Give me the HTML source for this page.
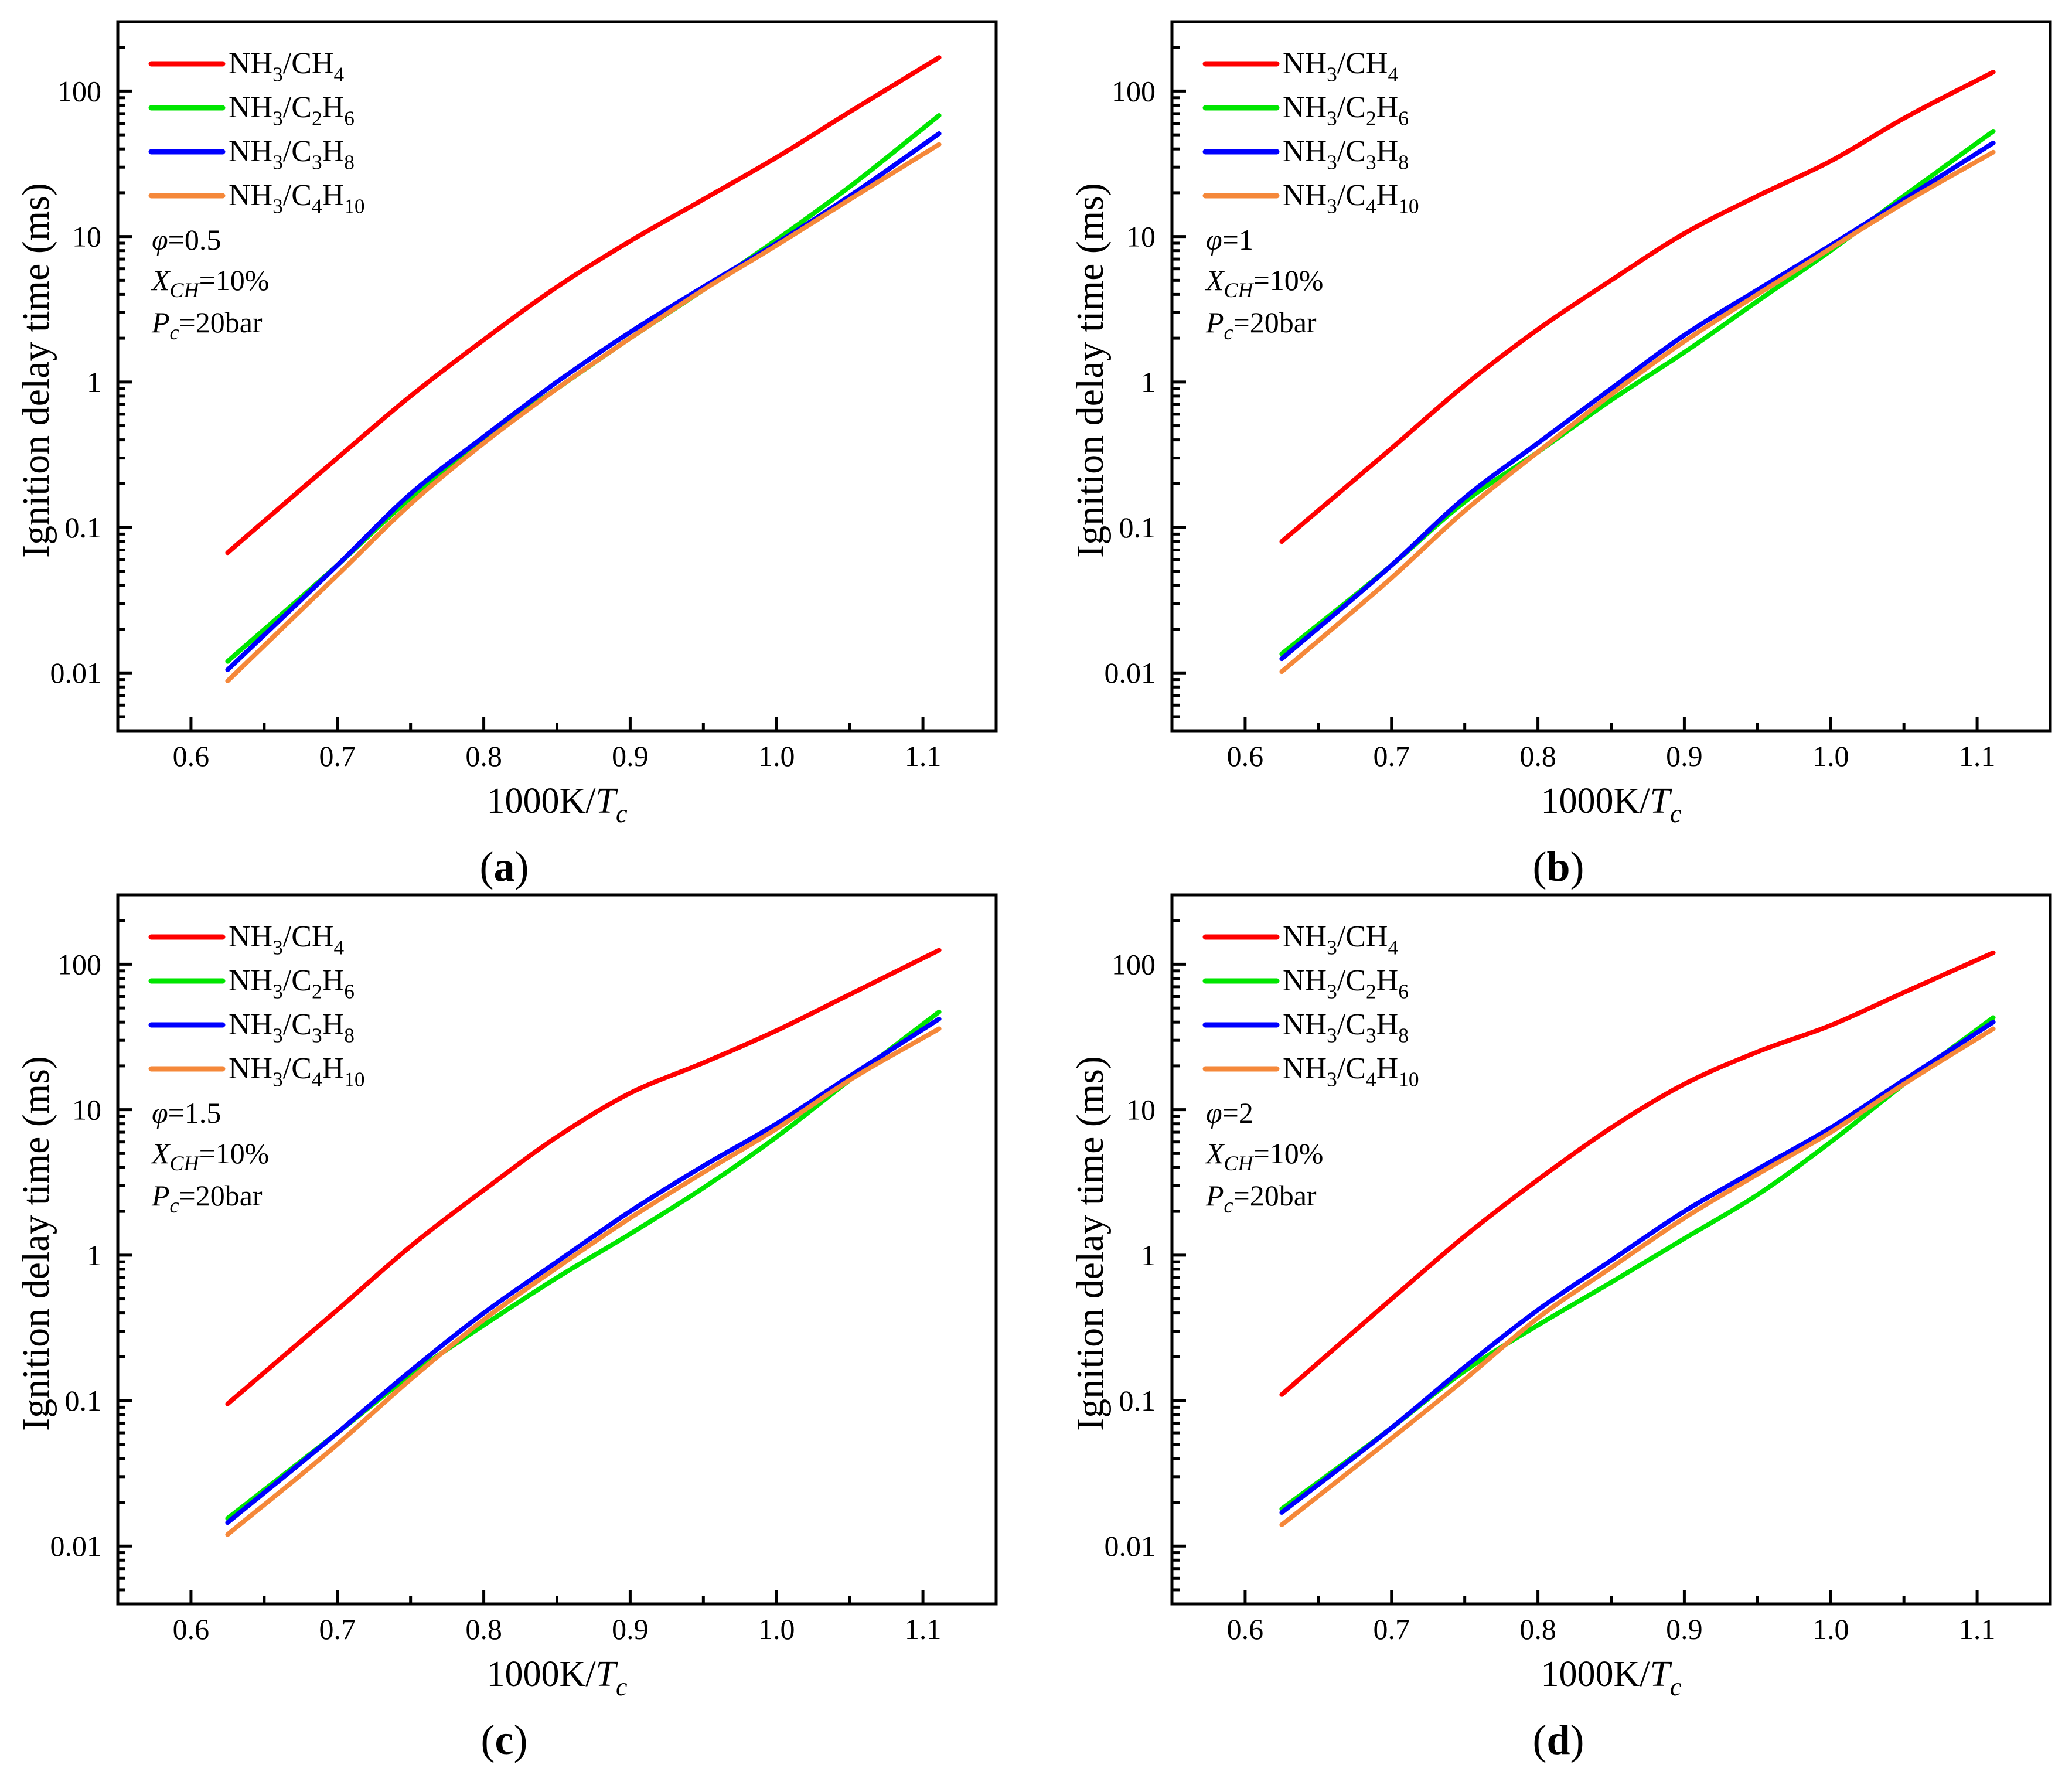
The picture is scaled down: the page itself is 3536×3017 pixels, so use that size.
<!DOCTYPE html>
<html><head><meta charset="utf-8"><style>
html,body{margin:0;padding:0;background:#fff}
svg{display:block;font-family:"Liberation Serif",serif}
text{font-family:"Liberation Serif",serif}
</style></head><body>
<svg id="fig" xmlns="http://www.w3.org/2000/svg" width="3536" height="3017" viewBox="0 0 3536 3017">
<rect width="3536" height="3017" fill="#fff"/>
</svg>
<script>
const xs = [0.625, 0.7, 0.75, 0.8, 0.85, 0.9, 0.95, 1.0, 1.05, 1.111];
const seriesNames = ["NH3/CH4","NH3/C2H6","NH3/C3H8","NH3/C4H10"];
const phiLabels = ["0.5","1","1.5","2"];
const panelLetters = ["a","b","c","d"];
const xTickLabels = ["0.6","0.7","0.8","0.9","1.0","1.1"];
const yTickLabels = ["0.01","0.1","1","10","100"];
// panel a
const aCH4  = [0.067,0.30,0.80,1.95,4.5,9.3,18,35,72,170];
const aC2H6 = [0.012,0.055,0.16,0.40,0.90,2.0,4.3,9.5,22,68];
const aC3H8 = [0.0105,0.055,0.17,0.42,1.0,2.2,4.5,9.0,19,51];
const aC4H10= [0.0088,0.047,0.145,0.38,0.90,2.0,4.3,8.7,18,43];
// panel b
const bCH4  = [0.08,0.35,0.95,2.3,5.0,10.5,19,33,65,135];
const bC2H6 = [0.0135,0.055,0.15,0.33,0.75,1.6,3.6,8.0,19,53];
const bC3H8 = [0.0125,0.055,0.16,0.38,0.90,2.1,4.3,8.7,18,44];
const bC4H10= [0.0102,0.045,0.13,0.33,0.82,1.9,4.0,8.3,17,38];
// panel c
const cCH4  = [0.095,0.42,1.15,2.8,6.5,13,21,35,62,125];
const cC2H6 = [0.0155,0.06,0.15,0.33,0.70,1.4,2.9,6.5,16,47];
const cC3H8 = [0.0145,0.06,0.16,0.40,0.90,2.0,4.1,8.0,17,42];
const cC4H10= [0.012,0.05,0.14,0.36,0.82,1.8,3.7,7.4,16,36];
// panel d
const dCH4  = [0.11,0.50,1.35,3.3,7.5,15,25,38,64,120];
const dC2H6 = [0.018,0.065,0.16,0.33,0.65,1.3,2.6,6.0,15,43];
const dC3H8 = [0.017,0.065,0.17,0.42,0.92,2.0,3.9,7.5,16,40];
const dC4H10= [0.014,0.055,0.14,0.37,0.82,1.8,3.6,7.0,15,36];

const panelData = [[aCH4,aC2H6,aC3H8,aC4H10],[bCH4,bC2H6,bC3H8,bC4H10],[cCH4,cC2H6,cC3H8,cC4H10],[dCH4,dC2H6,dC3H8,dC4H10]];
const colors = ["#ff0000","#00e600","#0000ff","#f5883a"];
const NS="http://www.w3.org/2000/svg";
const svg=document.getElementById('fig');
function mk(tag,attrs,parent){const e=document.createElementNS(NS,tag);for(const k in attrs)e.setAttribute(k,attrs[k]);(parent||svg).appendChild(e);return e;}

const origins=[[201,37],[2000,37],[201,1527],[2000,1527]];
const W=1499,H=1210,XMIN=0.55,XMAX=1.15,LMIN=Math.log10(0.004),LMAX=Math.log10(300);

function chemText(t,name,x,y,size,parent){
  const tx=mk('text',{x:x,y:y,'font-size':size,fill:'#000'},parent);
  
  
  const parts=t.match(/[A-Za-z\/]+|\d+/g);
  let sub=false;
  parts.forEach(p=>{
    const isNum=/^\d+$/.test(p);
    const s=mk('tspan',{},tx);
    if(isNum){s.setAttribute('font-size',size*0.68);s.setAttribute('dy',size*0.26);sub=true;}
    else if(sub){s.setAttribute('dy',-size*0.26);sub=false;}
    s.textContent=p;
  });
  return tx;
}

function smoothPath(pts){
  const n=pts.length,m=[];
  const d=[];
  for(let i=0;i<n-1;i++)d.push((pts[i+1][1]-pts[i][1])/(pts[i+1][0]-pts[i][0]));
  for(let i=0;i<n;i++){
    if(i===0)m.push(d[0]);else if(i===n-1)m.push(d[n-2]);
    else{const h0=pts[i][0]-pts[i-1][0],h1=pts[i+1][0]-pts[i][0];m.push((d[i-1]*h1+d[i]*h0)/(h0+h1));}
  }
  let s='M'+pts[0][0].toFixed(1)+','+pts[0][1].toFixed(1);
  for(let i=0;i<n-1;i++){
    const h=(pts[i+1][0]-pts[i][0])/3;
    s+=' C'+(pts[i][0]+h).toFixed(1)+','+(pts[i][1]+m[i]*h).toFixed(1)+' '+(pts[i+1][0]-h).toFixed(1)+','+(pts[i+1][1]-m[i+1]*h).toFixed(1)+' '+pts[i+1][0].toFixed(1)+','+pts[i+1][1].toFixed(1);
  }
  return s;
}

panelData.forEach((series,pi)=>{
  const [ox,oy]=origins[pi];
  const g=mk('g',{});
  
  
  const xS=v=>ox+(v-XMIN)/(XMAX-XMIN)*W;
  const yS=v=>oy+H-(Math.log10(v)-LMIN)/(LMAX-LMIN)*H;
  xTickLabels.forEach(l=>{
    const v=parseFloat(l),x=xS(v);
    const t=mk('line',{x1:x,x2:x,y1:oy+H,y2:oy+H-24,stroke:'#000','stroke-width':5},g);
    
    
    const tx=mk('text',{x:x,y:oy+H+60,'font-size':50,'text-anchor':'middle'},g);
    
    
    tx.textContent=l;
    if(v+0.05<XMAX){const xm=xS(v+0.05);const mm=mk('line',{x1:xm,x2:xm,y1:oy+H,y2:oy+H-13,stroke:'#000','stroke-width':5},g);
      
      }
  });
  yTickLabels.forEach(l=>{
    const v=parseFloat(l),y=yS(v);
    const t=mk('line',{x1:ox,x2:ox+24,y1:y,y2:y,stroke:'#000','stroke-width':5},g);
    
    
    const tx=mk('text',{x:ox-28,y:y+17,'font-size':50,'text-anchor':'end'},g);
    
    
    tx.textContent=l;
  });
  for(let dd=-3;dd<=2;dd++){for(let k=2;k<=9;k++){const v=k*Math.pow(10,dd);
    if(v<0.004||v>300)continue;const y=yS(v);
    const mm=mk('line',{x1:ox,x2:ox+13,y1:y,y2:y,stroke:'#000','stroke-width':5},g);
    
    }}
  series.forEach((vals,si)=>{
    const pts=xs.map((x,i)=>[xS(x),yS(vals[i])]);
    const p=mk('path',{d:smoothPath(pts),fill:'none',stroke:colors[si],'stroke-width':8,'stroke-linecap':'round','stroke-linejoin':'round'},g);
    
    
  });
  const fr=mk('rect',{x:ox,y:oy,width:W,height:H,fill:'none',stroke:'#000','stroke-width':5},g);
  
  
  seriesNames.forEach((n,si)=>{
    const ly=oy+72+si*75;
    const l=mk('line',{x1:ox+57,x2:ox+179,y1:ly,y2:ly,stroke:colors[si],'stroke-width':9,'stroke-linecap':'round'},g);
    
    
    chemText(n,'legend-entry',ox+189,ly+16,52,g);
  });
  const ann=mk('text',{x:ox+58,y:oy+389,'font-size':50},g);
  
  
  ann.innerHTML='<tspan font-style="italic">φ</tspan>='+phiLabels[pi];
  const ann2=mk('text',{x:ox+58,y:oy+458,'font-size':50},g);
  
  
  ann2.innerHTML='<tspan font-style="italic">X</tspan><tspan font-style="italic" font-size="36" dy="12">CH</tspan><tspan dy="-12">=10%</tspan>';
  const ann3=mk('text',{x:ox+58,y:oy+530,'font-size':50},g);
  
  
  ann3.innerHTML='<tspan font-style="italic">P</tspan><tspan font-style="italic" font-size="36" dy="12">c</tspan><tspan dy="-12">=20bar</tspan>';
  const xt=mk('text',{x:ox+W/2,y:oy+H+140,'font-size':62,'text-anchor':'middle'},g);
  
  
  xt.innerHTML='1000K/<tspan font-style="italic">T</tspan><tspan font-style="italic" font-size="44" dy="16">c</tspan>';
  const yt=mk('text',{x:0,y:0,'font-size':66,'text-anchor':'middle',transform:'translate('+(ox-118)+','+(oy+H/2-10)+') rotate(-90)'},g);
  
  
  yt.textContent='Ignition delay time (ms)';
  const pl=mk('text',{x:ox+W/2-90,y:oy+H+256,'font-size':72,'text-anchor':'middle'},g);
  
  
  pl.innerHTML='(<tspan font-weight="bold">'+panelLetters[pi]+'</tspan>)';
});
</script>
</body></html>
